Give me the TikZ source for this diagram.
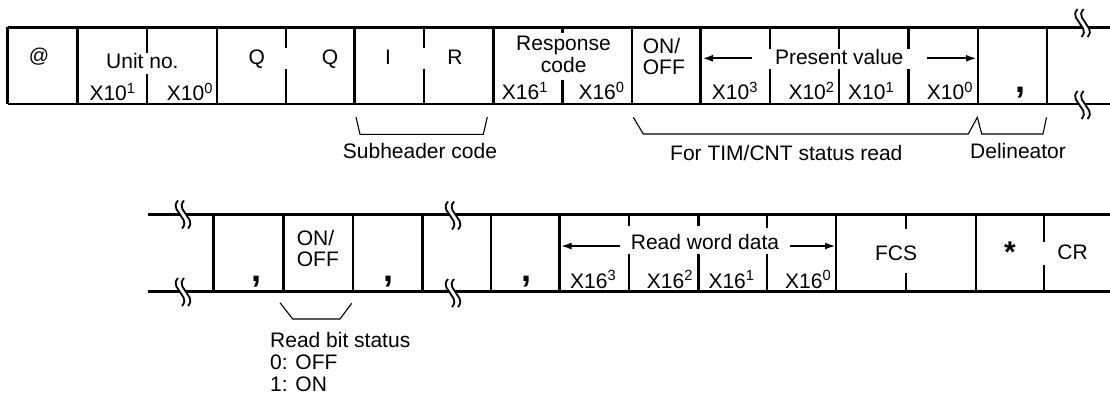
\documentclass[tikz,border=0pt]{standalone}
\usepackage{fontspec}
\setmainfont{Liberation Sans}
\usetikzlibrary{arrows.meta}

\begin{document}
\begin{tikzpicture}[x=1pt, y=-1pt, >={Latex[length=11pt,width=7pt]},
  frame/.style={line width=2.4pt},
  bracket/.style={line width=1.1pt},
  txt/.style={font=\fontsize{21}{22}\selectfont, inner sep=0pt, anchor=base west},
  punct/.style={font=\fontsize{36}{36}\selectfont\bfseries, inner sep=0pt}]
  \useasboundingbox (0,0) rectangle (1110,401);
  % response frame, first part
  \draw[frame] (7.5,27.5) -- (1110,27.5);
  \draw[frame] (7.5,104) -- (1110,104);
  \foreach \x in {7.5,77.3,216.7,354.5,493.3,632,700.5,977.7,1046.7}
    \draw[frame] (\x,27.5) -- (\x,104);
  \foreach \x/\a/\b in {147/53/74,285.7/48/69,424/48/69,562.3/33/80,770/49/69,839/49/69,908.5/49/69}{
    \draw[frame] (\x,27.5) -- (\x,\a); \draw[frame] (\x,\b) -- (\x,104);}
  \node[font=\fontsize{20}{20}\selectfont, inner sep=0pt] (atmark) at (39,56.5) {@};
  \node[txt] (unitno) at (106,69) {Unit no.};
  \node[txt] (unit1) at (89.3,101) {X10\textsuperscript{1}};
  \node[txt] (unit0) at (166.7,101) {X10\textsuperscript{0}};
  \node[txt] (hdq1) at (248.3,65) {Q};
  \node[txt] (hdq2) at (321.7,65) {Q};
  \node[txt,anchor=base] (subi) at (388,65) {I};
  \node[txt,anchor=base] (subr) at (455,65) {R};
  \node[txt,anchor=base] (resp) at (563.5,51) {Response};
  \node[txt,anchor=base] (respcode) at (563.7,72.7) {code};
  \node[txt] (resp1) at (501.7,100) {X16\textsuperscript{1}};
  \node[txt] (resp0) at (578.3,100) {X16\textsuperscript{0}};
  \node[txt] (onoff) at (642.7,53.3) {ON/};
  \node[txt] (onoffb) at (642.7,75) {OFF};
  \node[txt,anchor=base,inner xsep=23pt] (pv) at (839.2,65) {Present value};
  \coordinate (pvl) at (702,58.3); \coordinate (pvr) at (977,58.3);
  \draw[frame,->] (pv.west |- pvl) -- (pvl);
  \draw[frame,->] (pv.east |- pvr) -- (pvr);
  \node[txt] (pv3) at (711.7,100) {X10\textsuperscript{3}};
  \node[txt] (pv2) at (788.3,100) {X10\textsuperscript{2}};
  \node[txt] (pv1) at (848,100) {X10\textsuperscript{1}};
  \node[txt] (pv0) at (926.7,100) {X10\textsuperscript{0}};
  \node[punct] (delim) at (1020,93) {,};
  % brackets under the first part
  \draw[bracket] (356,117) -- (360,134.3) -- (483.3,134.3) -- (487.3,117);
  \draw[bracket] (633.3,117.3) -- (643.3,134) -- (968.3,134) -- (977.3,117.3)
    -- (981.7,134) -- (1043,134) -- (1046.5,117.3);
  \node[txt] (subhdr) at (342.7,158.3) {Subheader code};
  \node[txt] (timcnt) at (670,160) {For TIM/CNT status read};
  \node[txt] (delin) at (970,158) {Delineator};
  % response frame, second part
  \draw[frame] (148,214.5) -- (1110,214.5);
  \draw[frame] (148,291.5) -- (1110,291.5);
  \foreach \x in {213.3,283.3,352.7,422.3,490.7,559.3,836,975.7}
    \draw[frame] (\x,214.5) -- (\x,291.5);
  \foreach \x/\a/\b in {629/226/254,698.3/226/254,766.7/228/254,905.7/229/273,1044/241.7/265}{
    \draw[frame] (\x,214.5) -- (\x,\a); \draw[frame] (\x,\b) -- (\x,291.5);}
  \node[punct] (delim1) at (256,282) {,};
  \node[punct] (delim2) at (388,282) {,};
  \node[punct] (delim3) at (526.7,282) {,};
  \node[txt] (bit) at (296.7,245) {ON/};
  \node[txt] (bitb) at (296.7,266.5) {OFF};
  \node[txt,anchor=base,inner xsep=11pt] (rwd) at (705,249) {Read word data};
  \coordinate (rwl) at (560.5,246); \coordinate (rwr) at (836,246);
  \draw[frame,->] (rwd.west |- rwl) -- (rwl);
  \draw[frame,->] (rwd.east |- rwr) -- (rwr);
  \node[txt] (rw3) at (570,288.5) {X16\textsuperscript{3}};
  \node[txt] (rw2) at (646.7,288.5) {X16\textsuperscript{2}};
  \node[txt] (rw1) at (708.3,288.5) {X16\textsuperscript{1}};
  \node[txt] (rw0) at (785,288.5) {X16\textsuperscript{0}};
  \node[txt,anchor=base] (fcs) at (896,260) {FCS};
  \node[font=\fontsize{30}{30}\selectfont\bfseries, inner sep=0pt] (term) at (1010,251.7) {*};
  \node[txt,anchor=base] (cr) at (1072.5,259.5) {CR};
  \draw[bracket] (280,302.7) -- (292.7,319) -- (340,319) -- (351.7,303.3);
  \node[txt] (rbs) at (270,347) {Read bit status};
  \node[txt] (rbs0) at (270,369.3) {0: OFF};
  \node[txt] (rbs1) at (270,391.7) {1: ON};
  % break marks
  \foreach \x/\y in {1082.5/23,1082.5/105,183/214.5,183/292,453/215.5,453/293}{
    \draw[white,line width=6pt] (\x-2,\y-14) .. controls (\x-8,\y-7) and (\x-1,\y-3) .. (\x,\y)
      .. controls (\x+1,\y+3) and (\x+8,\y+7) .. (\x+2,\y+14);
    \foreach \d in {-3,3}
      \draw[line width=1.8pt] (\x+\d-2,\y-14) .. controls (\x+\d-8,\y-7) and (\x+\d-1,\y-3) .. (\x+\d,\y)
        .. controls (\x+\d+1,\y+3) and (\x+\d+8,\y+7) .. (\x+\d+2,\y+14);
  }
\end{tikzpicture}
\end{document}
